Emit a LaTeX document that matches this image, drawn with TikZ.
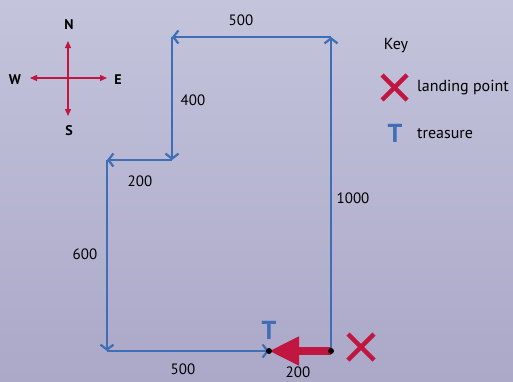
\documentclass[tikz,border=0pt]{standalone}
\usepackage{fontspec}
\setmainfont{PT Sans}
\usetikzlibrary{arrows.meta}
\definecolor{bgtop}{HTML}{C4C4DC}
\definecolor{bgbot}{HTML}{ABA8C8}
\definecolor{pathblue}{HTML}{3F6DB6}
\definecolor{xred}{HTML}{C0163F}
\tikzset{
  route/.style={draw=pathblue, line width=2.4pt, -{Straight Barb[length=5pt,width=13pt,line width=2.2pt]}},
  dist/.style={font=\fontsize{15}{17}\selectfont, text=black, inner sep=1pt},
  compass/.style={draw=xred, line width=1.3pt, -{Triangle[length=7pt,width=6pt]}},
  dirlab/.style={font=\bfseries\fontsize{14}{16}\selectfont, inner sep=1pt},
  keytext/.style={font=\fontsize{16}{18}\selectfont, anchor=west, inner sep=1pt},
  tmark/.style={font=\bfseries\fontsize{26}{28}\selectfont, text=pathblue, inner sep=0pt},
  xmark/.style={draw=xred, line width=4.5pt},
  dot/.style={circle, fill=black, inner sep=0pt, minimum size=6pt}
}
\begin{document}
\begin{tikzpicture}[x=1pt,y=-1pt]
\shade[top color=bgtop, bottom color=bgbot] (0,0) rectangle (513,381);
\useasboundingbox (0,0) rectangle (513,381);
% corners
\coordinate (P0) at (331,351);
\coordinate (P1) at (331,37);
\coordinate (P2) at (172,37);
\coordinate (P3) at (172,160);
\coordinate (P4) at (107,160);
\coordinate (P5) at (107,351);
\coordinate (P6) at (269,351);
\draw[route] (P0) -- (P1);
\draw[route] (P1) -- (P2);
\draw[route] (P2) -- (P3);
\draw[route] (P3) -- (P4);
\draw[route] (P4) -- (P5);
\draw[route] (P5) -- (P6);
% red arrow
\draw[xred, line width=8pt, -{Triangle[length=30pt,width=27pt]}] (P0) -- (P6);
\node[dot] (d1) at (P6) {};
\node[dot] (d0) at (P0) {};
% labels
\node[dist] (l1) at (241,20) {500};
\node[dist] (l2) at (193,100) {400};
\node[dist] (l3) at (140,181) {200};
\node[dist] (l4) at (85,254) {600};
\node[dist] (l5) at (183,369) {500};
\node[dist] (l6) at (298,372) {200};
\node[dist] (l7) at (353,198) {1000};
% treasure T
\node[tmark] (tt) at (269,330) {T};
% landing X
\coordinate (xa) at (348,334);
\coordinate (xb) at (374,360);
\coordinate (xc) at (348,360);
\coordinate (xd) at (374,334);
\draw[xmark] (xa) -- (xb);
\draw[xmark] (xc) -- (xd);
% compass
\coordinate (cc) at (68,78);
\coordinate (cn) at (68,41);
\coordinate (cs) at (68,116);
\coordinate (cw) at (30,78);
\coordinate (ce) at (107,78);
\draw[compass] (cc) -- (cn);
\draw[compass] (cc) -- (cs);
\draw[compass] (cc) -- (cw);
\draw[compass] (cc) -- (ce);
\node[dirlab] (n) at (69,25) {N};
\node[dirlab] (s) at (69,131) {S};
\node[dirlab] (w) at (15,80) {W};
\node[dirlab] (e) at (118,80) {E};
% key
\node[font=\fontsize{16}{18}\selectfont, inner sep=1pt] (key) at (396,46) {Key};
\coordinate (ka) at (382,75);
\coordinate (kb) at (407,100);
\coordinate (kc) at (382,100);
\coordinate (kd) at (407,75);
\draw[xmark] (ka) -- (kb);
\draw[xmark] (kc) -- (kd);
\node[keytext] (kl) at (416,88) {landing point};
\node[tmark] (kt) at (395,133) {T};
\node[keytext] (ktr) at (416,134) {treasure};
\end{tikzpicture}
\end{document}
